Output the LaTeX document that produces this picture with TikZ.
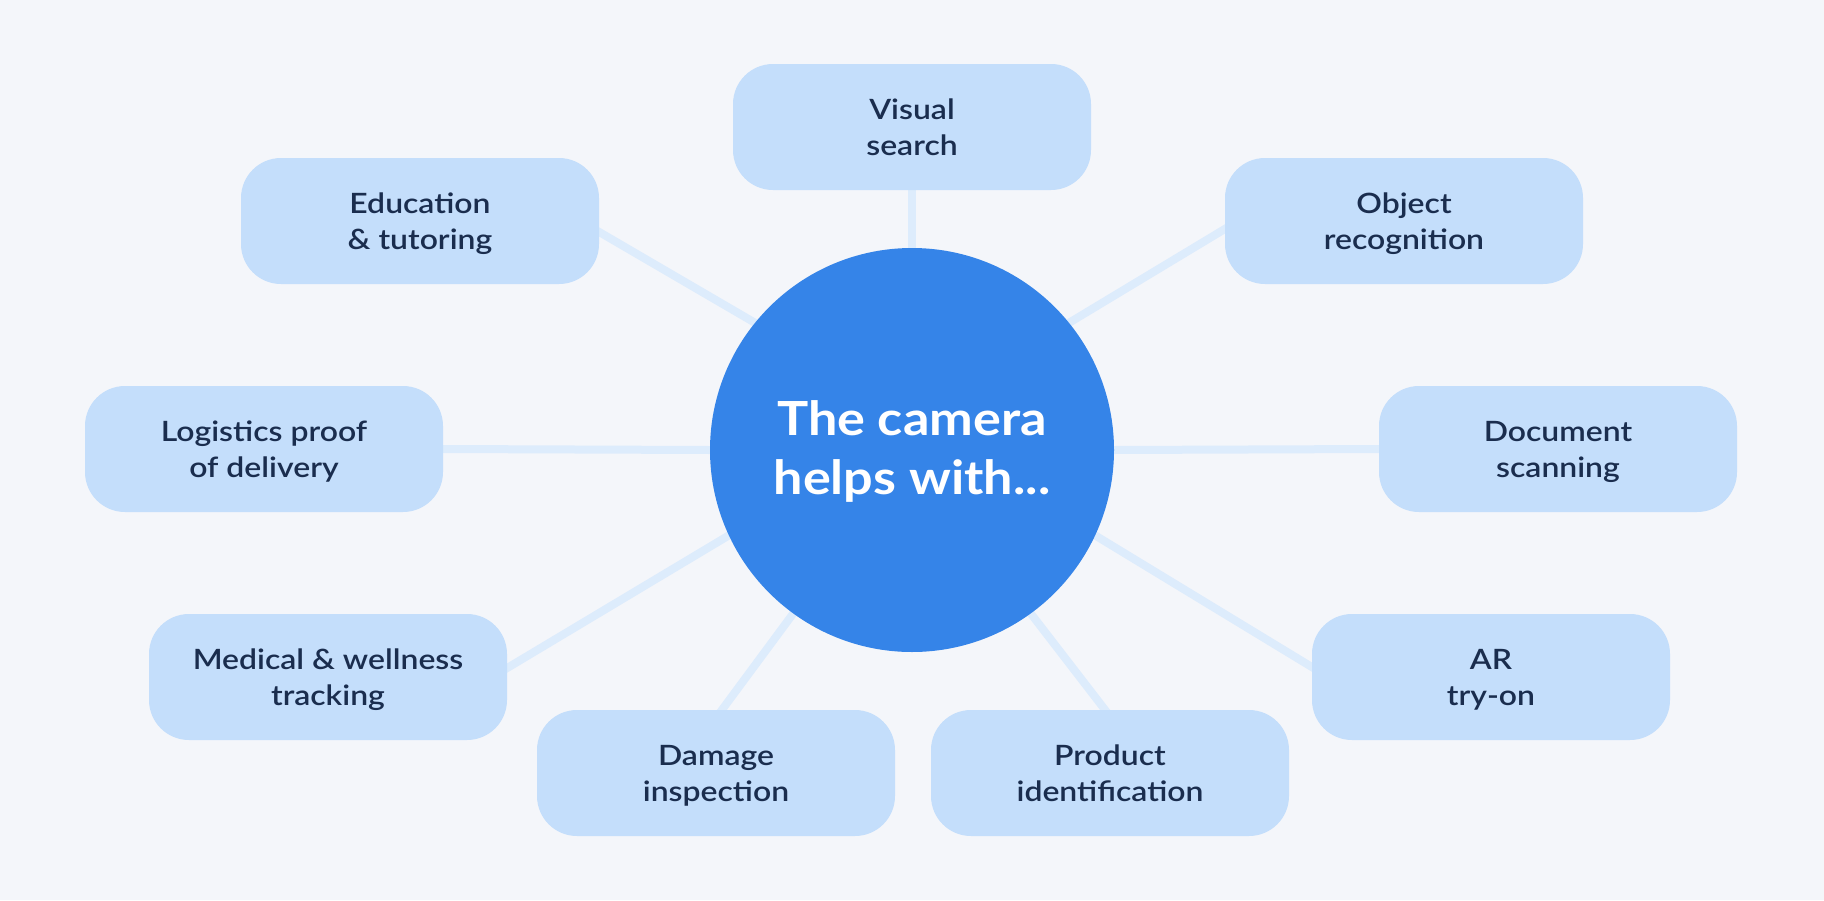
\documentclass[tikz,border=0pt]{standalone}
\usepackage{fontspec}
\setmainfont{Lato}
\newfontfamily\boxfont{Lato Semibold}[FakeStretch=1.14]
\newfontfamily\hubfont{Lato Bold}[FakeStretch=1.11]
\usetikzlibrary{shapes.geometric}
\definecolor{bgc}{HTML}{F4F6FA}
\definecolor{boxc}{HTML}{C4DEFB}
\definecolor{hubc}{HTML}{3584E8}
\definecolor{linec}{HTML}{DDECFC}
\definecolor{txtc}{HTML}{1A2D4E}
\pgfdeclarelayer{bglayer}
\pgfdeclarelayer{linelayer}
\pgfsetlayers{bglayer,linelayer,main}
\tikzset{
  usebox/.style={rectangle, rounded corners=40pt, fill=boxc, minimum width=358pt,
    minimum height=126pt, inner sep=0pt, align=center, text=txtc, text depth=0pt,
    font=\boxfont\fontsize{28}{36}\selectfont},
  hub/.style={circle, fill=hubc, minimum size=404pt, inner sep=0pt, align=center,
    text=white, text depth=5pt, font=\hubfont\fontsize{47}{59}\selectfont},
  link/.style={draw=linec, line width=8pt, shorten <=-6pt, shorten >=-6pt}
}
\begin{document}
\begin{tikzpicture}[x=1pt,y=-1pt]
\begin{pgfonlayer}{bglayer}
\fill[bgc] (0,0) rectangle (1824,900);
\end{pgfonlayer}
\useasboundingbox (0,0) rectangle (1824,900);
\node[hub] (c) at (912,450) {The camera\\helps with...};
\node[usebox] (vis) at (912,127) {Visual\\search};
\node[usebox] (edu) at (420,221) {Education\\\& tutoring};
\node[usebox] (obj) at (1404,221) {Object\\recognition};
\node[usebox] (log) at (264,449) {Logistics proof\\of delivery};
\node[usebox] (doc) at (1558,449) {Document\\scanning};
\node[usebox] (med) at (328,677) {Medical \& wellness\\tracking};
\node[usebox] (ar) at (1491,677) {AR\\try-on};
\node[usebox] (dam) at (716,773) {Damage\\inspection};
\node[usebox] (prod) at (1110,773) {Product\\identification};
\begin{pgfonlayer}{linelayer}
\draw[link] (vis.south) -- (c.north);
\draw[link] (log.east) -- (c.west);
\draw[link] (doc.west) -- (c.east);
\draw[link] ([yshift=-11pt]edu.east) -- (c.141);
\draw[link] ([yshift=-8pt]obj.west) -- (c.39);
\draw[link] ([yshift=9pt]med.east) -- (c.205);
\draw[link] ([yshift=10pt]ar.west) -- (c.-25);
\draw[link] ([xshift=6pt]dam.north) -- (c.234);
\draw[link] ([xshift=-5pt]prod.north) -- (c.-54);
\end{pgfonlayer}
\end{tikzpicture}
\end{document}
